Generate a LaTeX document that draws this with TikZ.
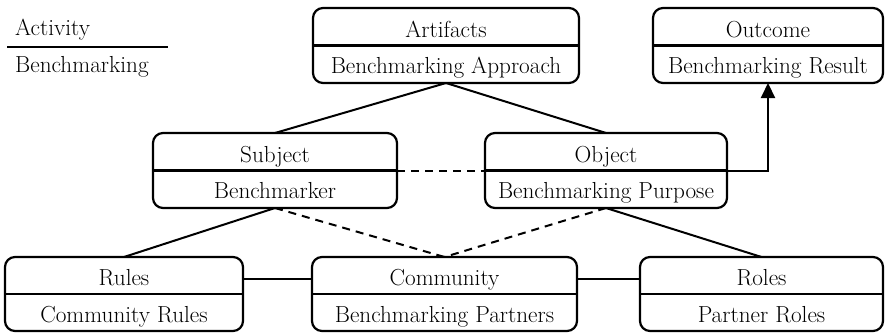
\documentclass[tikz,border=0pt]{standalone}
\usetikzlibrary{calc,arrows.meta}
\tikzset{
  box/.style={draw, rounded corners=10pt, line width=2.2pt, inner sep=0pt, outer sep=0pt},
  lbl/.style={inner sep=0pt, anchor=base, font=\rmfamily\fontsize{23.2}{28}\selectfont},
  conn/.style={line width=2pt},
  dconn/.style={conn, dash pattern=on 8pt off 6pt},
}
\newcommand\umlbox[7]{%
  \node[box, minimum width=#4pt, minimum height=#5pt] (#1) at (#2,#3) {};
  \draw[line width=2.2pt] (#1.west) -- (#1.east);
  \node[lbl] (#1-t) at ($(#1.center)+(0,-8.5)$) {#6};
  \node[lbl] (#1-b) at ($(#1.center)+(0,28)$) {#7};
}
\begin{document}
\begin{tikzpicture}[x=1pt,y=-1pt]
  \useasboundingbox (0,0) rectangle (885,332);
  % legend
  \node[lbl, anchor=base west] (act) at (15,35) {Activity};
  \node[lbl, anchor=base west] (actb) at (15,72) {Benchmarking};
  \coordinate (la) at (7,47);
  \coordinate (lb) at (168,47);
  \draw[conn] (la) -- (lb);
  % boxes
  \umlbox{art}{446}{45.5}{266}{75}{Artifacts}{Benchmarking Approach}
  \umlbox{out}{768}{45.5}{230}{75}{Outcome}{Benchmarking Result}
  \umlbox{subj}{275}{170.5}{244}{75}{Subject}{Benchmarker}
  \umlbox{obj}{606}{170.5}{242}{75}{Object}{Benchmarking Purpose}
  \umlbox{rules}{124}{294}{238}{74}{Rules}{Community Rules}
  \umlbox{comm}{444.5}{294}{265}{74}{Community}{Benchmarking Partners}
  \umlbox{roles}{761.5}{294}{243}{74}{Roles}{Partner Roles}
  % connectors
  \draw[conn] (art.south) -- (subj.north);
  \draw[conn] (art.south) -- (obj.north);
  \draw[dconn] (subj.east) -- (obj.west);
  \draw[conn] (subj.south) -- (rules.north);
  \draw[dconn] (subj.south) -- (comm.north);
  \draw[dconn] (obj.south) -- (comm.north);
  \draw[conn] (obj.south) -- (roles.north);
  \draw[conn] ($(rules.east)+(0,-15)$) -- ($(comm.west)+(0,-15)$);
  \draw[conn] ($(comm.east)+(0,-15)$) -- ($(roles.west)+(0,-15)$);
  \draw[conn, -{Triangle[length=15pt,width=14pt]}] (obj.east) -| (out.south);
\end{tikzpicture}
\end{document}
